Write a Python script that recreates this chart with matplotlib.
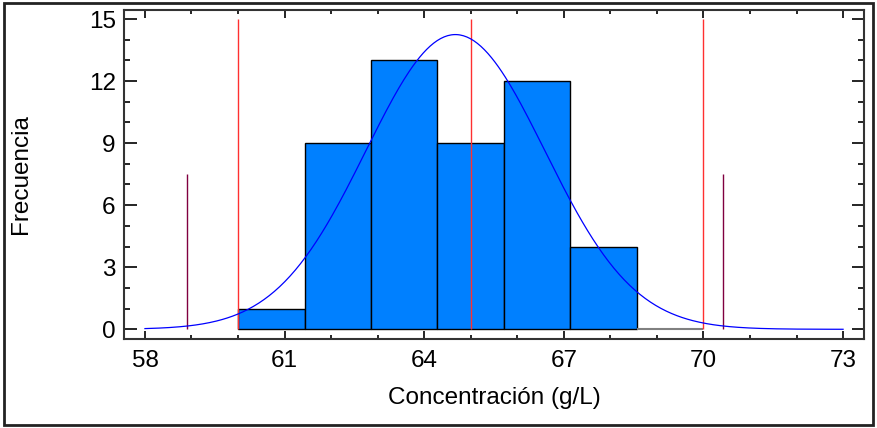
import numpy as np
import matplotlib.pyplot as plt
from matplotlib.patches import Rectangle
from matplotlib.ticker import MultipleLocator

plt.rcParams['font.family'] = ['Liberation Sans', 'DejaVu Sans']

# histogram data (bins start at 60, width 10/7)
bin_start = 60.0
bin_width = 10 / 7
counts = [1, 9, 13, 9, 12, 4, 0]

# fitted normal curve
mean = 64.67
sigma = 1.92
n_obs = sum(counts)

# specification limits and +/- 3 sigma lines
spec_lines = [60, 65, 70]
sigma_lines = [mean - 3 * sigma, mean + 3 * sigma]

x_ticks = [58, 61, 64, 67, 70, 73]
y_ticks = [0, 3, 6, 9, 12, 15]

fig = plt.figure(figsize=(8.77, 4.28), dpi=100)
ax = fig.add_axes([0.1414, 0.2079, 0.8438, 0.7699])

edges = bin_start + bin_width * np.arange(len(counts) + 1)
for i, c in enumerate(counts):
    if c > 0:
        ax.bar(edges[i], c, width=bin_width, align='edge', color='#0080ff',
               edgecolor='black', linewidth=1, zorder=2)
    else:
        ax.hlines(0, edges[i], edges[i + 1], color='#808080', linewidth=1.5, zorder=2)

x = np.linspace(58, 73, 400)
y = n_obs * bin_width * np.exp(-0.5 * ((x - mean) / sigma) ** 2) / (sigma * np.sqrt(2 * np.pi))
ax.plot(x, y, color='#0000ff', linewidth=0.9, zorder=4)

for s in spec_lines:
    ax.vlines(s, 0, 15, color='#ff3030', linewidth=1, zorder=3)
for s in sigma_lines:
    ax.vlines(s, 0, 7.5, color='#800040', linewidth=1, zorder=3)

ax.set_xlim(57.55, 73.45)
ax.set_ylim(-0.47, 15.46)
ax.set_xticks(x_ticks)
ax.set_yticks(y_ticks)
ax.xaxis.set_minor_locator(MultipleLocator(1))
ax.yaxis.set_minor_locator(MultipleLocator(1))
ax.tick_params(axis='x', which='major', direction='in', top=True, length=6, width=1.2,
               labelsize=17.5, pad=8)
ax.tick_params(axis='x', which='minor', direction='in', top=True, length=3, width=1.2)
ax.tick_params(axis='y', which='major', direction='in', right=True, length=9, width=1.2,
               labelsize=17.5, pad=6)
ax.tick_params(axis='y', which='minor', direction='in', right=True, length=4.5, width=1.2)
for sp in ax.spines.values():
    sp.set_linewidth(1.5)
    sp.set_color('#333333')

ax.set_xlabel('Concentración (g/L)', fontsize=17.5)
ax.set_ylabel('Frecuencia', fontsize=17.5)
ax.xaxis.set_label_coords(0.5, -0.145)
ax.yaxis.set_label_coords(-0.124, 0.5)

fig.patches.append(Rectangle((0.004, 0.006), 0.992, 0.988, transform=fig.transFigure,
                             fill=False, edgecolor='#222222', linewidth=2))

fig.savefig('out.png', dpi=100)
